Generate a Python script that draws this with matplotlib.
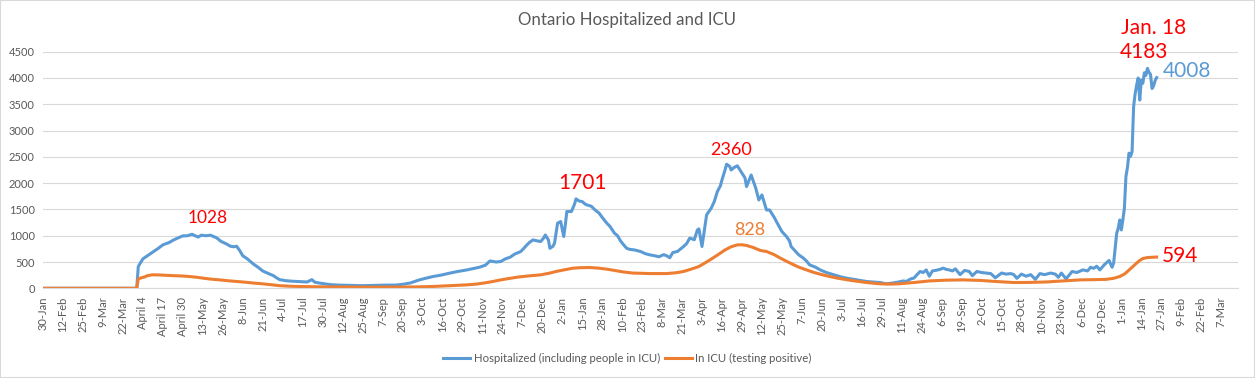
import matplotlib
matplotlib.use("Agg")
import matplotlib.pyplot as plt
from matplotlib.patches import Rectangle

plt.rcParams['font.family'] = ['Lato', 'DejaVu Sans']

# x = days since 30-Jan-2020
hosp_days = [0, 61, 62, 65, 68, 72, 75, 78, 82, 85, 88, 91, 94, 97, 99, 101, 103, 106, 109, 111,
             113, 116, 119, 122, 124, 126, 128, 130, 133, 137, 140, 143, 146, 150, 152, 154, 158,
             162, 165, 168, 172, 175, 177, 181, 187, 193, 200, 208, 215, 222, 230, 235, 239, 242,
             245, 249, 254, 259, 265, 270, 276, 280, 284, 288, 291, 295, 298, 301, 304, 307, 311,
             313, 315, 317, 319, 322, 324, 326, 327, 329, 330, 332, 333, 335, 337, 339, 340, 341,
             344, 346, 347, 349, 351, 353, 354, 356, 357, 359, 362, 364, 367, 369, 372, 374, 376,
             378, 380, 382, 385, 389, 392, 395, 398, 401, 404, 406, 408, 410, 413, 417, 419, 421,
             424, 426, 427, 429, 432, 435, 437, 439, 441, 442, 444, 445, 447, 448, 450, 452, 455,
             457, 458, 461, 464, 466, 468, 471, 473, 476, 478, 481, 484, 486, 487, 490, 492, 495,
             497, 499, 503, 506, 510, 515, 519, 523, 528, 532, 536, 540, 545, 549, 553, 557, 560,
             562, 565, 567, 569, 571, 573, 575, 577, 579, 581, 584, 586, 588, 590, 592, 594, 597,
             600, 603, 605, 608, 611, 614, 617, 620, 624, 627, 630, 632, 634, 637, 640, 643, 646,
             649, 652, 656, 659, 661, 663, 666, 670, 673, 677, 680, 682, 684, 686, 688, 691, 694,
             696, 697, 699, 700, 701, 702, 703, 704, 705, 706, 707, 708, 709, 710, 711, 712, 713,
             714, 715, 716, 717, 718, 719, 720, 721, 722, 723, 724, 725]
hosp_vals = [0, 0, 414, 560, 620, 700, 760, 826, 870, 920, 960, 997, 1000, 1028, 1000, 975, 1010,
             1000, 1010, 985, 960, 890, 850, 800, 790, 800, 720, 620, 560, 460, 400, 330, 290, 240,
             200, 165, 145, 135, 130, 125, 120, 165, 115, 95, 70, 60, 55, 50, 55, 60, 62, 80, 100,
             130, 160, 190, 225, 250, 290, 320, 350, 375, 400, 440, 520, 500, 510, 560, 590, 650,
             700, 760, 826, 880, 920, 900, 890, 960, 1015, 920, 760, 800, 860, 1240, 1270, 985,
             1200, 1460, 1460, 1600, 1701, 1660, 1650, 1600, 1587, 1570, 1560, 1500, 1430, 1350,
             1240, 1180, 1050, 1000, 900, 826, 760, 740, 730, 700, 660, 636, 620, 600, 640, 620,
             580, 680, 700, 795, 850, 954, 925, 1110, 1130, 795, 1396, 1524, 1650, 1840, 1950, 2060,
             2250, 2360, 2320, 2250, 2300, 2330, 2190, 2100, 1935, 2155, 1905, 1680, 1776, 1490,
             1490, 1350, 1240, 1080, 985, 900, 795, 700, 636, 575, 520, 447, 400, 350, 300, 256,
             220, 194, 170, 150, 130, 120, 110, 85, 100, 120, 140, 130, 180, 195, 260, 320, 300,
             350, 230, 330, 340, 360, 384, 360, 350, 330, 370, 260, 340, 320, 240, 320, 300, 290,
             280, 200, 290, 270, 280, 260, 190, 270, 230, 260, 170, 280, 260, 290, 270, 210, 290,
             180, 320, 300, 350, 330, 400, 380, 420, 350, 450, 530, 400, 480, 1050, 1145, 1300,
             1110, 1300, 1525, 2125, 2300, 2570, 2510, 2600, 3455, 3700, 3870, 4000, 3580, 3960,
             3900, 4100, 4050, 4183, 4110, 4070, 3800, 3850, 3950, 4008]

icu_days = [0, 61, 62, 64, 66, 68, 71, 75, 78, 85, 90, 95, 100, 105, 109, 115, 120, 126, 132, 137,
            143, 148, 154, 160, 166, 176, 190, 210, 232, 245, 254, 265, 276, 282, 287, 292, 298,
            303, 309, 316, 324, 330, 334, 340, 345, 350, 356, 362, 368, 373, 378, 384, 390, 395,
            401, 406, 412, 417, 422, 427, 432, 436, 440, 444, 448, 452, 455, 458, 462, 467, 471,
            476, 480, 485, 491, 496, 502, 509, 517, 526, 536, 545, 552, 557, 567, 577, 588, 599,
            610, 620, 632, 642, 653, 664, 675, 685, 692, 697, 701, 704, 706, 709, 712, 714, 716,
            719, 722, 725]
icu_vals = [0, 0, 180, 200, 215, 240, 256, 255, 250, 240, 235, 225, 210, 190, 175, 160, 145, 130,
            115, 100, 85, 70, 50, 40, 35, 30, 25, 22, 23, 28, 35, 50, 66, 80, 100, 125, 160, 185,
            213, 235, 256, 290, 320, 355, 383, 392, 395, 383, 360, 335, 310, 290, 285, 280, 280,
            280, 295, 320, 365, 415, 500, 574, 650, 730, 790, 826, 828, 815, 780, 720, 700, 640,
            574, 500, 415, 360, 300, 245, 194, 150, 110, 85, 80, 85, 110, 140, 155, 160, 150, 130,
            110, 112, 120, 140, 160, 165, 170, 190, 225, 270, 320, 400, 480, 530, 567, 585, 590,
            594]

tick_labels = ["30-Jan", "12-Feb", "25-Feb", "9-Mar", "22-Mar", "April 4", "April 17", "April 30",
               "13-May", "26-May", "8-Jun", "21-Jun", "4-Jul", "17-Jul", "30-Jul", "12-Aug",
               "25-Aug", "7-Sep", "20-Sep", "3-Oct", "16-Oct", "29-Oct", "11-Nov", "24-Nov",
               "7-Dec", "20-Dec", "2-Jan", "15-Jan", "28-Jan", "10-Feb", "23-Feb", "8-Mar",
               "21-Mar", "3-Apr", "16-Apr", "29-Apr", "12-May", "25-May", "7-Jun", "20-Jun",
               "3-Jul", "16-Jul", "29-Jul", "11-Aug", "24-Aug", "6-Sep", "19-Sep", "2-Oct",
               "15-Oct", "28-Oct", "10-Nov", "23-Nov", "6-Dec", "19-Dec", "1-Jan", "14-Jan",
               "27-Jan", "9-Feb", "22-Feb", "7-Mar"]

BLUE = '#5B9BD5'
ORANGE = '#ED7D31'
GRAY = '#595959'
GRID = '#D9D9D9'

fig = plt.figure(figsize=(12.55, 3.78), dpi=100)
ax = fig.add_axes([0.0343, 0.2373, 0.9522, 0.6259])

ax.plot(hosp_days, hosp_vals, color=BLUE, lw=2.2, solid_joinstyle='round',
        label='Hospitalized (including people in ICU)')
ax.plot(icu_days, icu_vals, color=ORANGE, lw=2.2, solid_joinstyle='round',
        label='In ICU (testing positive)')

ax.set_xlim(0, 778)
ax.set_ylim(0, 4500)
ax.set_yticks(range(0, 5000, 500))
ax.set_xticks([13 * i for i in range(len(tick_labels))])
ax.set_xticklabels(tick_labels, rotation=90, va='top')
ax.tick_params(axis='both', length=0, colors=GRAY, labelsize=8)
ax.tick_params(axis='y', pad=6)
ax.tick_params(axis='x', pad=6)
ax.grid(axis='y', color=GRID, lw=0.8)
ax.set_axisbelow(True)
for s in ['top', 'right', 'left']:
    ax.spines[s].set_visible(False)
ax.spines['bottom'].set_color(GRID)
ax.spines['bottom'].set_linewidth(0.8)

# annotations
ax.text(107, 1336, '1028', color='red', fontsize=12.5, ha='center', va='center')
ax.text(351, 2000, '1701', color='red', fontsize=15, ha='center', va='center')
ax.text(448, 2628, '2360', color='red', fontsize=13, ha='center', va='center')
ax.text(460, 1108, '828', color=ORANGE, fontsize=13, ha='center', va='center')
ax.text(723, 4946, 'Jan. 18', color='red', fontsize=15, ha='center', va='center', clip_on=False)
ax.text(717, 4490, '4183', color='red', fontsize=15, ha='center', va='center', clip_on=False)
ax.text(745, 4129, '4008', color=BLUE, fontsize=15, ha='center', va='center')
ax.text(740, 614, '594', color='red', fontsize=15, ha='center', va='center')

fig.text(0.5, 1 - 20 / 378, 'Ontario Hospitalized and ICU', color=GRAY, fontsize=12.2,
         ha='center', va='center')

fig.legend(loc='center', bbox_to_anchor=(0.5, 1 - 358 / 378), ncol=2, frameon=False,
           fontsize=8.2, labelcolor=GRAY, handlelength=2.4, columnspacing=0.4,
           handletextpad=0.3)

fig.patches.append(Rectangle((0, 0), 1, 1, transform=fig.transFigure, fill=False,
                             edgecolor=GRID, lw=1.5))

fig.savefig('out.png', dpi=100)
